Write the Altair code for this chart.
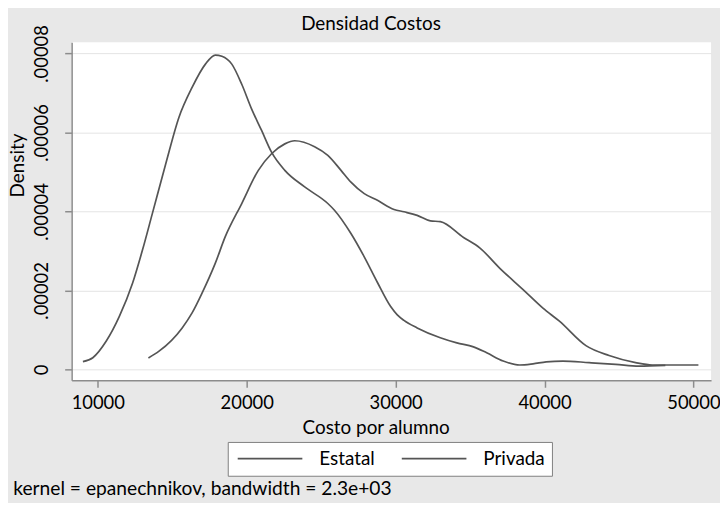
import altair as alt
import pandas as pd

# ---- data ----
series_names = ["Estatal", "Privada"]

estatal_x = [9000, 9667, 10560, 11447, 12333, 13000, 13667, 14560, 15447, 16333,
             17227, 17893, 18333, 19000, 19667, 20333, 21000, 21667, 22560, 23893,
             25447, 25893, 27000, 27893, 28780, 29667, 30113, 30560, 31447, 33000,
             34113, 35227, 36113, 37227, 38333, 39227, 40113, 41227, 43000, 44780,
             46333, 48113]
estatal_y = [1.94e-6, 2.95e-6, 7.1e-6, 1.34e-5, 2.18e-5, 3.02e-5, 3.95e-5, 5.2e-5, 6.38e-5, 7.14e-5,
             7.73e-5, 7.96e-5, 7.93e-5, 7.73e-5, 7.22e-5, 6.59e-5, 6.05e-5, 5.5e-5, 5.04e-5, 4.62e-5,
             4.2e-5, 4.03e-5, 3.44e-5, 2.85e-5, 2.2e-5, 1.59e-5, 1.38e-5, 1.24e-5, 1.05e-5, 8.0e-6,
             6.7e-6, 5.7e-6, 4.2e-6, 2.1e-6, 1.1e-6, 1.4e-6, 1.9e-6, 2.1e-6, 1.7e-6, 1.26e-6,
             0.8e-6, 1.0e-6]

privada_x = [13400, 14113, 15667, 16333, 17000, 17893, 18560, 19667, 20780, 21667,
             22560, 23227, 24560, 25447, 26333, 27000, 27893, 28780, 29893, 30560,
             31447, 32333, 33000, 34560, 35667, 37000, 38560, 39893, 41000, 42780,
             44333, 46113, 47227, 50333]
privada_y = [2.9e-6, 4.6e-6, 1.05e-5, 1.43e-5, 1.93e-5, 2.69e-5, 3.36e-5, 4.2e-5, 5.04e-5, 5.46e-5,
             5.71e-5, 5.79e-5, 5.64e-5, 5.42e-5, 5.04e-5, 4.74e-5, 4.45e-5, 4.28e-5, 4.05e-5, 3.99e-5,
             3.9e-5, 3.76e-5, 3.74e-5, 3.34e-5, 3.07e-5, 2.56e-5, 2.02e-5, 1.55e-5, 1.22e-5, 6.0e-6,
             3.5e-6, 1.7e-6, 1.1e-6, 1.1e-6]

x_ticks = [10000, 20000, 30000, 40000, 50000]
y_ticks = [0, 0.00002, 0.00004, 0.00006, 0.00008]
note_text = ["kernel = epanechnikov, bandwidth = 2.3e+03"]

df = pd.concat([
    pd.DataFrame({"costo": estatal_x, "dens": estatal_y, "serie": series_names[0], "ord": range(len(estatal_x))}),
    pd.DataFrame({"costo": privada_x, "dens": privada_y, "serie": series_names[1], "ord": range(len(privada_x))}),
])

FONT = "Lato"
FS = 19
LINE = "#555555"
AXIS = "#8c8c8c"

lines = alt.Chart(df).mark_line(strokeWidth=1.7, interpolate="monotone").encode(
    x=alt.X("costo:Q",
            scale=alt.Scale(domain=[8244, 51182], nice=False, zero=False),
            axis=alt.Axis(values=x_ticks, format="d", title="Costo por alumno",
                          grid=False, tickSize=7, labelPadding=21,
                          labelBaseline="alphabetic", labelFontSize=18.5, labelFont=FONT,
                          titleFontSize=FS, titleFont=FONT, titleFontWeight="normal",
                          titleX=305.7, titleY=53, titleAlign="center",
                          titleBaseline="alphabetic", titleAnchor="start")),
    y=alt.Y("dens:Q",
            scale=alt.Scale(domain=[-2.77e-6, 8.285e-5], nice=False, zero=False),
            axis=alt.Axis(values=y_ticks, title="Density", grid=True, gridColor="#e4e4e4",
                          gridWidth=1, tickSize=7, labelPadding=17, labelAngle=270,
                          labelAlign="center", labelBaseline="alphabetic",
                          labelExpr="datum.value == 0 ? '0' : substring(format(datum.value, '.5f'), 1)",
                          labelFontSize=18.5, labelFont=FONT,
                          titleFontSize=FS, titleFont=FONT, titleFontWeight="normal",
                          titleAngle=270, titleX=-48, titleY=123.5, titleAlign="center",
                          titleBaseline="alphabetic", titleAnchor="start")),
    color=alt.Color("serie:N",
                    scale=alt.Scale(domain=series_names, range=[LINE, LINE]),
                    legend=alt.Legend(title=None, orient="none", legendX=157, legendY=402,
                                      direction="horizontal", symbolType="M-1,0H9",
                                      symbolSize=169, symbolStrokeWidth=1.7,
                                      labelFontSize=FS, labelFont=FONT, labelColor="black",
                                      labelOffset=66, columnPadding=23, padding=7,
                                      strokeColor="#808080", fillColor="white")),
    order="ord:Q",
)

note = alt.Chart(pd.DataFrame({"t": note_text})).mark_text(
    align="left", baseline="alphabetic", fontSize=19.3, font=FONT, color="black"
).encode(text="t:N", x=alt.value(-58.7), y=alt.value(455.7))

chart = alt.layer(lines, note).properties(
    width=643, height=340,
    autosize=alt.AutoSizeParams(type="none"),
    padding={"left": 64, "top": 33, "right": 9, "bottom": 122},
    title=alt.TitleParams("Densidad Costos", fontSize=FS, font=FONT, fontWeight="normal",
                          anchor="middle", frame="group", dx=-20.5, offset=0, dy=24.6,
                          baseline="alphabetic", color="black"),
).configure(background="#e8e8e8").configure_view(fill="white", strokeWidth=0).configure_axis(
    domainColor=AXIS, tickColor=AXIS, domainWidth=1.5, tickWidth=1.5,
    labelColor="black", titleColor="black"
)

chart.save("out.html", embed_options={"renderer": "svg", "actions": False})
